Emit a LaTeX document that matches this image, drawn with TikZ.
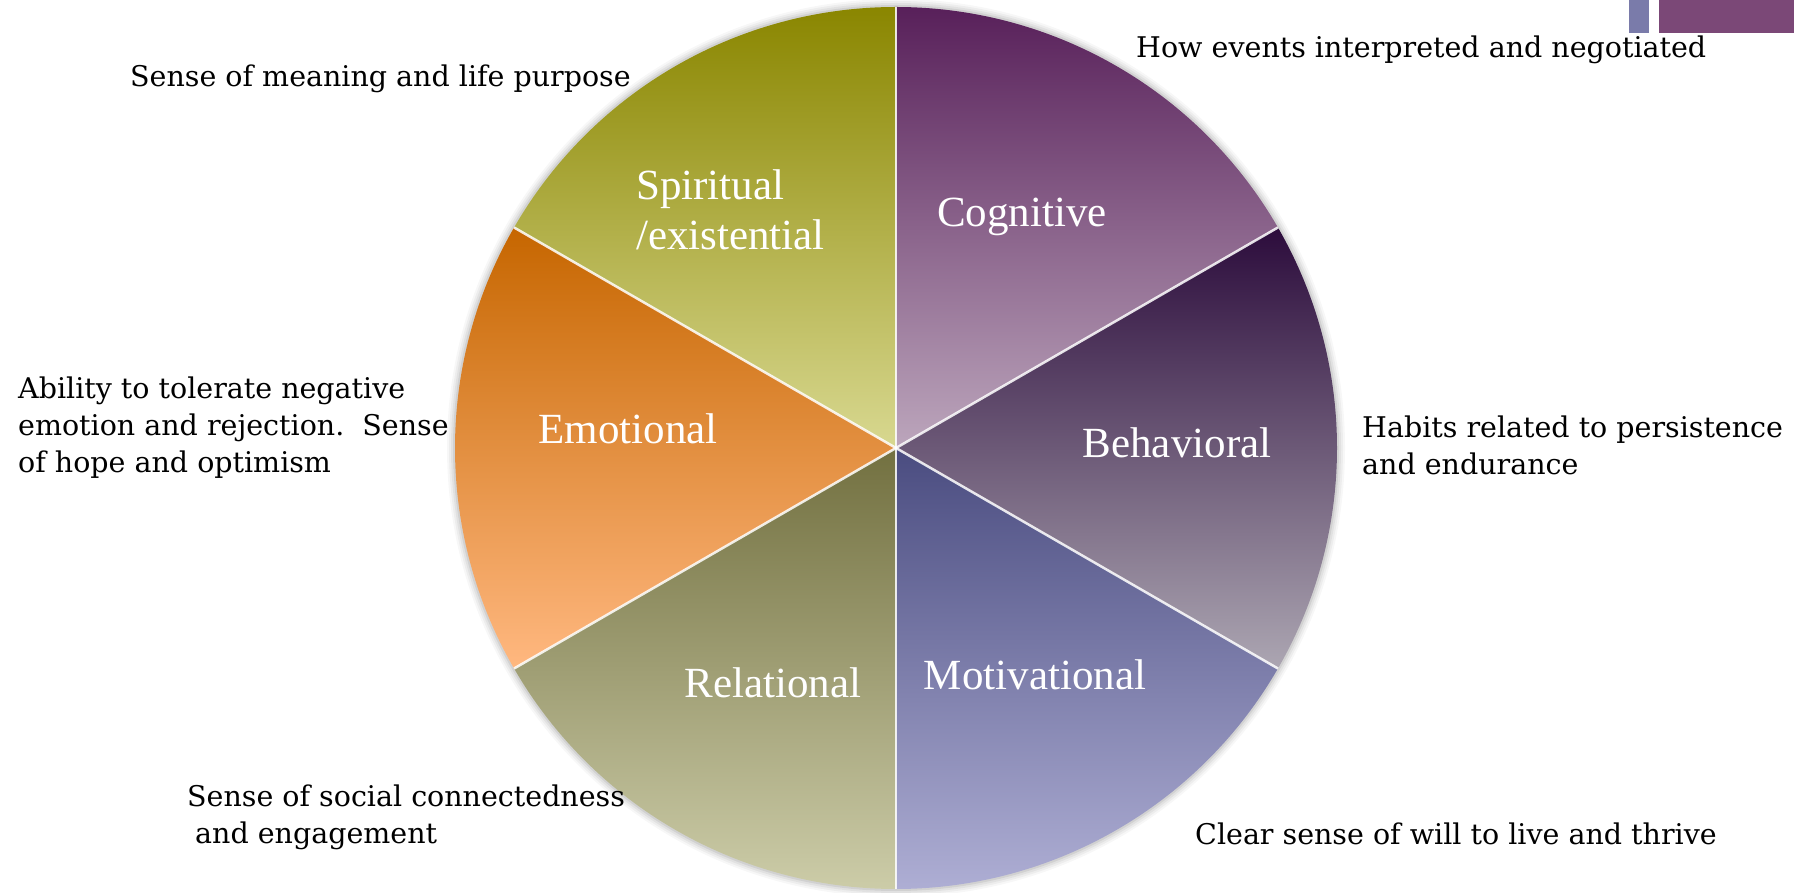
\documentclass[tikz,border=0pt]{standalone}
\usepackage{fontspec}
\setmainfont{DejaVu Serif}
\newfontfamily\labelfont{Liberation Serif}
\definecolor{spirT}{HTML}{8A8600}
\definecolor{spirB}{HTML}{D8D890}
\definecolor{cogT}{HTML}{58205A}
\definecolor{cogB}{HTML}{BCA6BC}
\definecolor{behT}{HTML}{2C0C3C}
\definecolor{behB}{HTML}{ACA6B2}
\definecolor{motT}{HTML}{4A4C80}
\definecolor{motB}{HTML}{AEAED4}
\definecolor{relT}{HTML}{727040}
\definecolor{relB}{HTML}{CCCCA8}
\definecolor{emoT}{HTML}{C66600}
\definecolor{emoB}{HTML}{FFB880}
\definecolor{barA}{HTML}{7A7BAA}
\definecolor{barB}{HTML}{7B4877}
\begin{document}
\begin{tikzpicture}[x=1pt,y=1pt,
  lab/.style={font=\labelfont\fontsize{43}{50}\selectfont, text=white, inner sep=0pt},
  desc/.style={font=\fontsize{28.5}{37}\selectfont, text=black, inner sep=0pt, align=left},
  sep/.style={white, line width=2.5pt, opacity=0.85}]
\useasboundingbox (0,0) rectangle (1804,892);
\coordinate (c) at (896,444);
\def\R{441}
% soft shadow
\foreach \w/\o in {8/0.03, 6/0.04, 4/0.05, 2/0.07}
  \fill[black, opacity=\o] (c) circle[radius=\R+\w];
% wedges
\path[top color=cogT, bottom color=cogB] (c) -- ++(30:\R) arc[start angle=30, end angle=90, radius=\R] -- cycle;
\path[top color=spirT, bottom color=spirB] (c) -- ++(90:\R) arc[start angle=90, end angle=150, radius=\R] -- cycle;
\path[top color=emoT, bottom color=emoB] (c) -- ++(150:\R) arc[start angle=150, end angle=210, radius=\R] -- cycle;
\path[top color=relT, bottom color=relB] (c) -- ++(210:\R) arc[start angle=210, end angle=270, radius=\R] -- cycle;
\path[top color=motT, bottom color=motB] (c) -- ++(270:\R) arc[start angle=270, end angle=330, radius=\R] -- cycle;
\path[top color=behT, bottom color=behB] (c) -- ++(-30:\R) arc[start angle=-30, end angle=30, radius=\R] -- cycle;
% separators
\foreach \a in {30,90,150,210,270,330}
  \draw[sep] (c) -- ++(\a:\R);
% top-right bars
\fill[barA] (1629,859) rectangle (1649,892);
\fill[barB] (1659,859) rectangle (1794,892);
% wedge labels
\node[lab, anchor=base] (cog) at (1022,665) {Cognitive};
\node[lab, anchor=base west, align=left] (spir) at (636,642) {Spiritual\\/existential};
\node[lab, anchor=base] (emo) at (628,448) {Emotional};
\node[lab, anchor=base] (beh) at (1177,434) {Behavioral};
\node[lab, anchor=base] (rel) at (773,195) {Relational};
\node[lab, anchor=base] (mot) at (1035,202) {Motivational};
% descriptions (base anchor = last line)
\node[desc, anchor=base west] (dspir) at (130,805) {Sense of meaning and life purpose};
\node[desc, anchor=base west] (dcog) at (1136,834) {How events interpreted and negotiated};
\node[desc, anchor=base west] (demo) at (18,419) {Ability to tolerate negative\\emotion and rejection.\ \ Sense\\of hope and optimism};
\node[desc, anchor=base west] (dbeh) at (1362,417) {Habits related to persistence\\and endurance};
\node[desc, anchor=base west] (drel) at (187,49) {Sense of social connectedness\\\hspace*{8pt}and engagement};
\node[desc, anchor=base west] (dmot) at (1195,48) {Clear sense of will to live and thrive};
\end{tikzpicture}
\end{document}
